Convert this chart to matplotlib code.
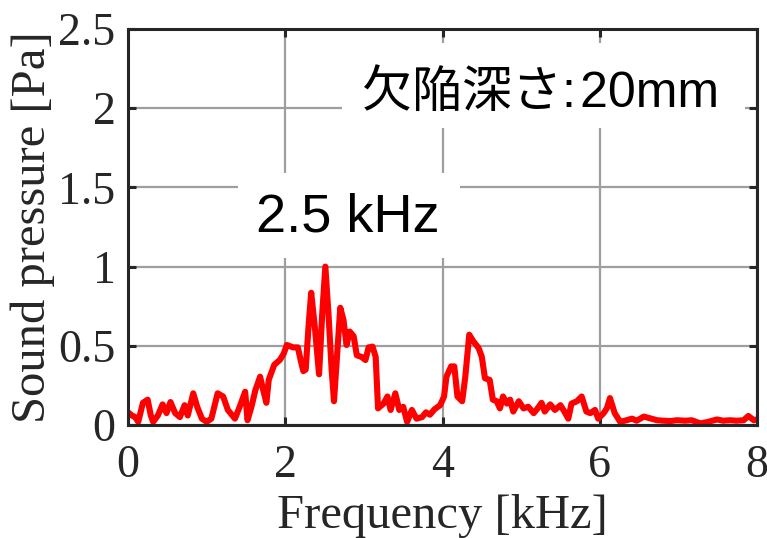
import matplotlib
matplotlib.use("Agg")
import matplotlib.pyplot as plt
from matplotlib.patches import Rectangle

# Spectrum of the measured sound pressure
freq_khz = [0.00, 0.05, 0.09, 0.13, 0.19, 0.25, 0.29, 0.32, 0.38, 0.44, 0.49, 0.54,
            0.60, 0.66, 0.72, 0.76, 0.83, 0.88, 0.94, 1.00, 1.06, 1.14, 1.21, 1.27,
            1.36, 1.42, 1.49, 1.52, 1.57, 1.62, 1.68, 1.72, 1.76, 1.79, 1.86, 1.93,
            1.98, 2.02, 2.10, 2.16, 2.20, 2.23, 2.26, 2.30, 2.33, 2.38, 2.43, 2.47,
            2.51, 2.55, 2.59, 2.62, 2.66, 2.70, 2.74, 2.78, 2.82, 2.87, 2.91, 2.97,
            3.02, 3.06, 3.11, 3.15, 3.18, 3.25, 3.30, 3.34, 3.40, 3.45, 3.50, 3.55,
            3.61, 3.67, 3.74, 3.79, 3.84, 3.90, 3.97, 4.02, 4.05, 4.11, 4.15, 4.19,
            4.25, 4.29, 4.34, 4.39, 4.46, 4.50, 4.54, 4.60, 4.64, 4.69, 4.73, 4.77,
            4.82, 4.86, 4.90, 4.97, 5.03, 5.09, 5.16, 5.21, 5.26, 5.30, 5.37, 5.43,
            5.50, 5.55, 5.60, 5.64, 5.71, 5.77, 5.83, 5.88, 5.94, 5.98, 6.05, 6.09,
            6.13, 6.19, 6.26, 6.34, 6.41, 6.47, 6.56, 6.64, 6.73, 6.81, 6.90, 6.98,
            7.09, 7.17, 7.28, 7.38, 7.49, 7.57, 7.66, 7.74, 7.83, 7.89, 7.96, 8.00]
pressure_pa = [0.08, 0.06, 0.05, 0.02, 0.14, 0.16, 0.06, 0.02, 0.06, 0.13, 0.075, 0.145,
               0.075, 0.05, 0.125, 0.06, 0.20, 0.115, 0.04, 0.02, 0.04, 0.20, 0.18, 0.095,
               0.04, 0.115, 0.21, 0.03, 0.115, 0.22, 0.305, 0.22, 0.14, 0.285, 0.38, 0.41,
               0.45, 0.505, 0.49, 0.49, 0.40, 0.34, 0.35, 0.65, 0.835, 0.60, 0.32, 0.70,
               1.00, 0.70, 0.35, 0.15, 0.45, 0.74, 0.665, 0.505, 0.59, 0.56, 0.44, 0.43,
               0.41, 0.49, 0.495, 0.43, 0.105, 0.135, 0.18, 0.095, 0.20, 0.095, 0.115, 0.02,
               0.095, 0.04, 0.05, 0.08, 0.065, 0.10, 0.125, 0.18, 0.305, 0.37, 0.37, 0.18,
               0.15, 0.305, 0.57, 0.53, 0.485, 0.43, 0.295, 0.285, 0.16, 0.15, 0.105, 0.18,
               0.135, 0.16, 0.085, 0.15, 0.105, 0.115, 0.075, 0.105, 0.14, 0.085, 0.13, 0.095,
               0.125, 0.085, 0.04, 0.135, 0.15, 0.18, 0.085, 0.075, 0.095, 0.04, 0.075, 0.105,
               0.17, 0.075, 0.02, 0.03, 0.04, 0.027, 0.053, 0.042, 0.03, 0.027, 0.025, 0.03,
               0.027, 0.03, 0.01, 0.02, 0.035, 0.027, 0.03, 0.027, 0.03, 0.057, 0.03, 0.035]

x_ticks = [0, 2, 4, 6, 8]
y_ticks = [0, 0.5, 1, 1.5, 2, 2.5]
y_tick_labels = ["0", "0.5", "1", "1.5", "2", "2.5"]

x_label = "Frequency [kHz]"
y_label = "Sound pressure [Pa]"
depth_note = "欠陥深さ:\u200a20mm"
peak_note = "2.5 kHz"

W, H = 767, 538
fig = plt.figure(figsize=(W / 100, H / 100), dpi=100)
ax = fig.add_axes([128 / W, 1 - 425 / H, (757 - 128) / W, (425 - 29) / H])

dark = "#262626"
serif = "Liberation Serif"
sans = ["Liberation Sans", "Noto Sans CJK JP", "DejaVu Sans"]

ax.plot(freq_khz, pressure_pa, color="#ff0000", lw=4.4, solid_joinstyle="round",
        solid_capstyle="round", zorder=2)

ax.set_xlim(0, 8)
ax.set_ylim(0, 2.5)
ax.set_xticks(x_ticks)
ax.set_yticks(y_ticks)
ax.set_yticklabels(y_tick_labels)
ax.grid(True, color="#9e9e9e", lw=1.6)
ax.set_axisbelow(True)

for s in ax.spines.values():
    s.set_color(dark)
    s.set_linewidth(2.2)
ax.tick_params(direction="in", length=6, width=2.2, color=dark, labelcolor=dark,
               top=True, right=True, labelsize=33)
ax.tick_params(axis="y", pad=9)
ax.tick_params(axis="x", pad=14)
for lab in ax.get_xticklabels() + ax.get_yticklabels():
    lab.set_fontfamily(serif)

ax.set_xlabel(x_label, fontsize=35, family=serif, color=dark, labelpad=5)
ax.set_ylabel(y_label, fontsize=35, family=serif, color=dark, labelpad=2)

# White boxes behind the annotations (they hide the grid)
for (x0, y0, x1, y1) in [(342, 43, 745, 128), (238, 173, 460, 258)]:
    ax.add_patch(Rectangle((x0 / W, 1 - y1 / H), (x1 - x0) / W, (y1 - y0) / H,
                           transform=fig.transFigure, facecolor="white",
                           edgecolor="none", zorder=1.8))

fig.text(541 / W, 1 - 94 / H, depth_note, fontsize=36, family=sans, color="black",
         ha="center", va="center", zorder=5)
fig.text(348 / W, 1 - 217 / H, peak_note, fontsize=39, family=sans, color="black",
         ha="center", va="center", zorder=5)

fig.savefig("out.png", dpi=100, facecolor="white")
